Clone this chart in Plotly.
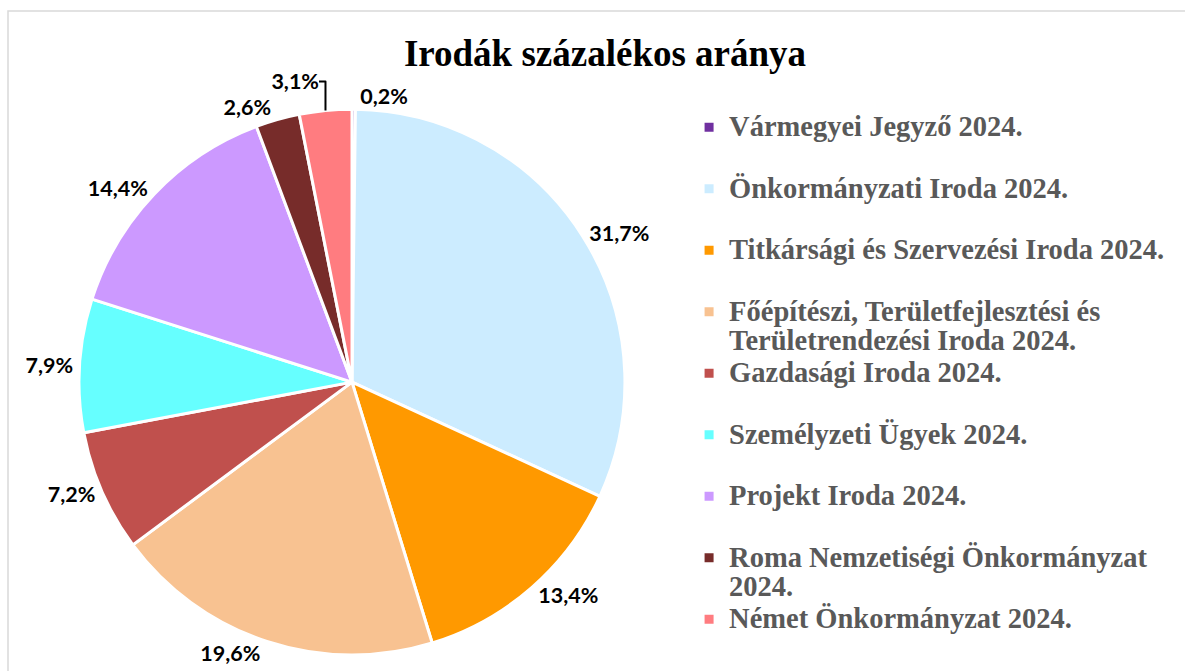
import plotly.graph_objects as go

# ---- data ----
categories = [
    "Vármegyei Jegyző 2024.",
    "Önkormányzati Iroda 2024.",
    "Titkársági és Szervezési Iroda 2024.",
    "Főépítészi, Területfejlesztési és|Területrendezési Iroda 2024.",
    "Gazdasági Iroda 2024.",
    "Személyzeti Ügyek 2024.",
    "Projekt Iroda 2024.",
    "Roma Nemzetiségi Önkormányzat|2024.",
    "Német Önkormányzat 2024.",
]
values = [0.2, 31.7, 13.4, 19.6, 7.2, 7.9, 14.4, 2.6, 3.1]
colors = ["#7030A0", "#CCECFF", "#FF9900", "#F8C291", "#C0504D",
          "#66FFFF", "#CC99FF", "#772C2A", "#FF7C80"]
title_text = "Irodák százalékos aránya"

# ---- legend labels (two text rows per entry, like the original) ----
def legend_label(cat):
    parts = cat.split("|")
    if len(parts) == 1:
        parts.append("\u00a0")
    return "<br>".join(f'<span style="font-size:28.5px">{p}</span>' for p in parts)

legend_labels = [legend_label(c) for c in categories]
value_text = [f"{v:.1f}".replace(".", ",") + "%" for v in values]

fig = go.Figure(go.Pie(
    labels=legend_labels,
    values=values,
    text=value_text,
    textinfo="text",
    textposition="outside",
    sort=False,
    direction="clockwise",
    rotation=0,
    marker=dict(colors=colors, line=dict(color="white", width=3)),
    outsidetextfont=dict(family="Lato", size=21.5, color="#000000", weight="bold"),
    domain=dict(x=[77 / 1185, 627 / 1185], y=[1 - 660 / 671, 1 - 110 / 671]),
    hoverinfo="label+text",
))

fig.update_layout(
    width=1185, height=671,
    margin=dict(l=0, r=0, t=0, b=0),
    paper_bgcolor="white",
    title=dict(text=f"<b>{title_text}</b>", x=605 / 1185, xanchor="center",
               y=1 - 53 / 671, yanchor="middle",
               font=dict(family="Liberation Serif", size=37, color="#000000")),
    legend=dict(x=0.5815, xanchor="left", y=1 - 107 / 671, yanchor="top",
                valign="top",
                font=dict(family="Liberation Serif", size=22.5, color="#595959", weight="bold")),
    shapes=[dict(type="rect", xref="paper", yref="paper",
                 x0=8 / 1185, x1=1.01, y0=-0.01, y1=1 - 11 / 671,
                 line=dict(color="#D9D9D9", width=1.5), layer="below")],
)

fig.write_html("out.html")
